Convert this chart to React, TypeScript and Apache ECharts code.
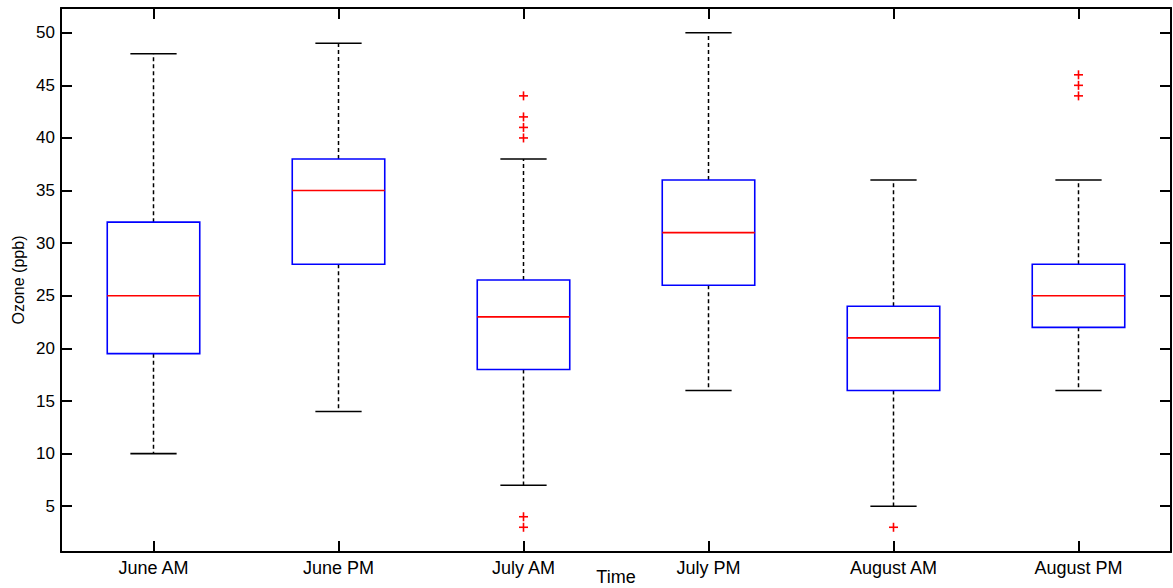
import React, { useEffect, useRef } from "react";
import * as echarts from "echarts";

const categories = ["June AM", "June PM", "July AM", "July PM", "August AM", "August PM"];
const whiskerLow = [10, 14, 7, 16, 5, 16];
const quartile1 = [19.5, 28, 18, 26, 16, 22];
const medians = [25, 35, 23, 31, 21, 25];
const quartile3 = [32, 38, 26.5, 36, 24, 28];
const whiskerHigh = [48, 49, 38, 50, 36, 36];
// [category index, value]
const outliers: [number, number][] = [
  [2, 44], [2, 42], [2, 41], [2, 40], [2, 4], [2, 3],
  [4, 3],
  [5, 46], [5, 45], [5, 44],
];
const yMin = 0.65;
const yMax = 52.35;

const FONT = "'Liberation Sans', Arial, Helvetica, sans-serif";

export default function App() {
  const ref = useRef<HTMLDivElement>(null);

  useEffect(() => {
    if (!ref.current) return;
    const chart = echarts.init(ref.current, undefined, { renderer: "svg" });

    const boxData = categories.map((_, i) => [
      i, whiskerLow[i], quartile1[i], medians[i], quartile3[i], whiskerHigh[i],
    ]);

    const axisLine = { show: true, lineStyle: { color: "#000", width: 2 } };

    const option: any = {
      animation: false,
      backgroundColor: "#fff",
      grid: { left: 61, right: 2, top: 8, bottom: 36, containLabel: false, outerBoundsMode: "none" },
      xAxis: [
        {
          type: "category",
          position: "bottom",
          data: categories,
          boundaryGap: true,
          axisLine,
          axisTick: { show: true, inside: true, length: 11, alignWithLabel: true, lineStyle: { color: "#000", width: 2 } },
          axisLabel: { color: "#000", fontSize: 18, fontFamily: FONT, margin: 7 },
          splitLine: { show: false },
          name: "Time",
          nameLocation: "middle",
          nameGap: 16,
          nameMoveOverlap: false,
          nameTextStyle: { color: "#000", fontSize: 18, fontFamily: FONT },
        },
        {
          type: "category",
          position: "top",
          data: categories,
          boundaryGap: true,
          axisLine,
          axisTick: { show: true, inside: true, length: 11, alignWithLabel: true, lineStyle: { color: "#000", width: 2 } },
          axisLabel: { show: false },
          splitLine: { show: false },
        },
      ],
      yAxis: [
        {
          type: "value",
          position: "left",
          min: yMin,
          max: yMax,
          minInterval: 5,
          maxInterval: 5,
          axisLine,
          axisTick: { show: true, inside: true, length: 11, lineStyle: { color: "#000", width: 2 } },
          axisLabel: {
            color: "#000",
            fontSize: 17,
            fontFamily: FONT,
            margin: 6,
            showMinLabel: true,
            showMaxLabel: true,
            formatter: (v: number) => {
              const r = Math.round(v / 5) * 5;
              return Math.abs(v - r) < 1e-6 && r >= 5 && r <= 50 ? String(r) : "";
            },
          },
          splitLine: { show: false },
          name: "Ozone (ppb)",
          nameLocation: "middle",
          nameGap: 35,
          nameMoveOverlap: false,
          nameTextStyle: { color: "#000", fontSize: 16, fontFamily: FONT },
        },
        {
          type: "value",
          position: "right",
          min: yMin,
          max: yMax,
          minInterval: 5,
          maxInterval: 5,
          axisLine,
          axisTick: { show: true, inside: true, length: 11, lineStyle: { color: "#000", width: 2 } },
          axisLabel: { show: false },
          splitLine: { show: false },
        },
      ],
      series: [
        {
          type: "custom",
          xAxisIndex: 0,
          yAxisIndex: 0,
          data: boxData,
          renderItem: (params: any, api: any) => {
            const idx = api.value(0);
            const band = api.size([1, 0])[0];
            const bw = band * 0.25;
            const cw = band * 0.125;
            const pLow = api.coord([idx, api.value(1)]);
            const pQ1 = api.coord([idx, api.value(2)]);
            const pMed = api.coord([idx, api.value(3)]);
            const pQ3 = api.coord([idx, api.value(4)]);
            const pHigh = api.coord([idx, api.value(5)]);
            const x = pMed[0];
            const dashStyle = { stroke: "#000", lineWidth: 1.5, lineDash: [4, 3], fill: null };
            const solidStyle = { stroke: "#000", lineWidth: 1.6, fill: null };
            return {
              type: "group",
              children: [
                { type: "line", shape: { x1: x, y1: pQ3[1], x2: x, y2: pHigh[1] }, style: dashStyle },
                { type: "line", shape: { x1: x, y1: pQ1[1], x2: x, y2: pLow[1] }, style: dashStyle },
                { type: "line", shape: { x1: x - cw, y1: pHigh[1], x2: x + cw, y2: pHigh[1] }, style: solidStyle },
                { type: "line", shape: { x1: x - cw, y1: pLow[1], x2: x + cw, y2: pLow[1] }, style: solidStyle },
                {
                  type: "rect",
                  shape: { x: x - bw, y: pQ3[1], width: bw * 2, height: pQ1[1] - pQ3[1] },
                  style: { stroke: "#0000ff", lineWidth: 1.6, fill: null },
                },
                {
                  type: "line",
                  shape: { x1: x - bw, y1: pMed[1], x2: x + bw, y2: pMed[1] },
                  style: { stroke: "#ff0000", lineWidth: 1.6 },
                },
              ],
            };
          },
        },
        {
          type: "custom",
          xAxisIndex: 0,
          yAxisIndex: 0,
          data: outliers,
          renderItem: (params: any, api: any) => {
            const p = api.coord([api.value(0), api.value(1)]);
            const h = 4.5;
            const st = { stroke: "#ff0000", lineWidth: 1.6 };
            return {
              type: "group",
              children: [
                { type: "line", shape: { x1: p[0] - h, y1: p[1], x2: p[0] + h, y2: p[1] }, style: st },
                { type: "line", shape: { x1: p[0], y1: p[1] - h, x2: p[0], y2: p[1] + h }, style: st },
              ],
            };
          },
        },
      ],
    };

    chart.setOption(option);
    return () => chart.dispose();
  }, []);

  return (
    <div
      ref={ref}
      style={{ position: "absolute", left: 0, top: 0, width: 1173, height: 588, background: "#fff" }}
    />
  );
}
